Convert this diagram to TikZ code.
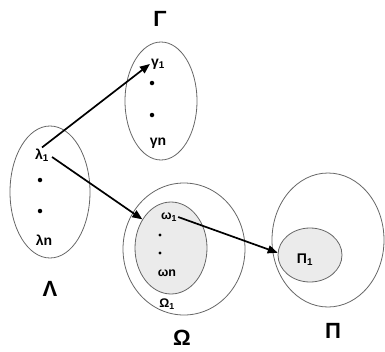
\documentclass[tikz,border=0pt]{standalone}
\usepackage{fontspec}
\setmainfont{Liberation Sans}
\usetikzlibrary{shapes.geometric,arrows.meta}
\begin{document}
\begin{tikzpicture}[x=1pt,y=-1pt,
  set/.style={draw=black!60,line width=0.8pt,ellipse,inner sep=0pt},
  sub/.style={fill=black!8},
  item/.style={font=\bfseries\fontsize{14}{16}\selectfont,inner sep=1pt},
  big/.style={font=\bfseries\fontsize{22}{24}\selectfont,inner sep=0pt},
  dotn/.style={circle,fill=black,inner sep=0pt,minimum size=4.5pt},
  arr/.style={-{Triangle[length=10pt,width=8pt]},line width=1.7pt}]
\useasboundingbox (0,0) rectangle (385,351);
% Lambda
\node[set,minimum width=80pt,minimum height=132pt] (L) at (50,192) {};
\node[item] (l1) at (42,155) {λ\textsubscript{1}};
\node[dotn] (ld1) at (40,180) {};
\node[dotn] (ld2) at (40,211) {};
\node[item] (ln) at (44,240) {λn};
\node[big] (Lab) at (50,289) {Λ};
% Gamma
\node[set,minimum width=72pt,minimum height=118pt] (G) at (161,101) {};
\node[item] (g1) at (158,64) {γ\textsubscript{1}};
\node[dotn] (gd1) at (152,83) {};
\node[dotn] (gd2) at (152,115) {};
\node[item] (gn) at (158,143) {γn};
\node[big] (Gab) at (160,19) {Γ};
% Omega
\node[set,minimum width=122pt,minimum height=132pt] (O) at (184,249) {};
\node[set,sub,minimum width=72pt,minimum height=92pt] (Oin) at (171,248) {};
\node[item,font=\bfseries\fontsize{12.5}{14}\selectfont] (o1) at (169,217) {ω\textsubscript{1}};
\node[dotn,minimum size=3.4pt] (od1) at (160,235) {};
\node[dotn,minimum size=3.4pt] (od2) at (160,253) {};
\node[item,font=\bfseries\fontsize{12.5}{14}\selectfont] (on) at (167,273) {ωn};
\node[item,font=\bfseries\fontsize{12.5}{14}\selectfont] (O1) at (167,304) {Ω\textsubscript{1}};
\node[big] (Oab) at (182,338) {Ω};
% Pi
\node[set,minimum width=112pt,minimum height=134pt] (P) at (328,240) {};
\node[set,sub,minimum width=64pt,minimum height=54pt] (Pin) at (310,255) {};
\node[item] (p1) at (305,260) {Π\textsubscript{1}};
\node[big] (Pab) at (333,331) {Π};
% arrows
\draw[arr] (l1.north) -- (g1.west);
\draw[arr] (l1.east) ++(2,2) coordinate (s2) (s2) -- (Oin.135);
\draw[arr] (o1.east) -- (Pin.176);
\end{tikzpicture}
\end{document}
